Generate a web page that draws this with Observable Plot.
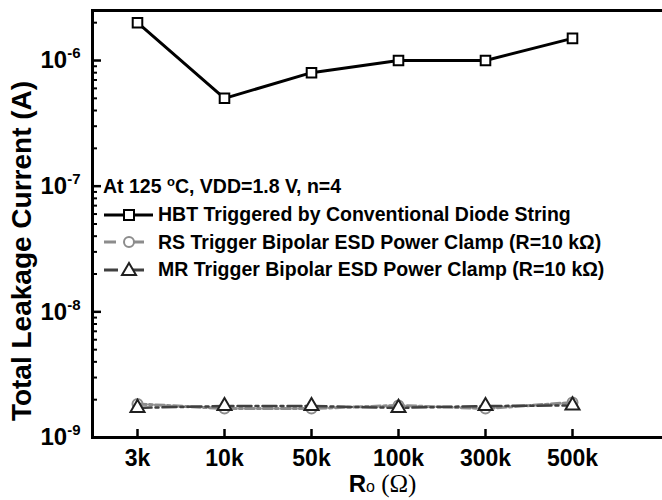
<!DOCTYPE html>
<html>
<head>
<meta charset="utf-8">
<script src="https://cdn.jsdelivr.net/npm/d3@7"></script>
<script src="https://cdn.jsdelivr.net/npm/@observablehq/plot@0.6"></script>
<style>
  body { margin: 0; background: #fff; }
  #wrap { position: relative; width: 662px; height: 500px; overflow: hidden; font-family: "Liberation Sans", Arial, sans-serif; font-weight: bold; }
  #legend { position: absolute; left: 103px; top: 177px; font-size: 19.5px; color: #000; line-height: 1; }
  #legend .row { display: flex; align-items: center; height: 27.5px; white-space: nowrap; }
  #legend .title { height: 24px; white-space: pre; }
  #legend svg { width: 55px; height: 22px; flex: none; }
</style>
</head>
<body>
<div id="wrap"><div id="legend"></div></div>
<script>
const categories = ["3k", "10k", "50k", "100k", "300k", "500k"];
const hbtValues = [2.0e-6, 5.0e-7, 8.0e-7, 1.0e-6, 1.0e-6, 1.5e-6];
const rsValues = [1.85e-9, 1.7e-9, 1.7e-9, 1.8e-9, 1.7e-9, 1.9e-9];
const mrValues = [1.72e-9, 1.78e-9, 1.78e-9, 1.72e-9, 1.78e-9, 1.8e-9];
const majorTicks = [1e-9, 1e-8, 1e-7, 1e-6];
const seriesNames = [
  "HBT Triggered by Conventional Diode String",
  "RS Trigger Bipolar ESD Power Clamp (R=10 kΩ)",
  "MR Trigger Bipolar ESD Power Clamp (R=10 kΩ)"
];
const legendTitle = "At 125 °C, VDD=1.8 V, n=4";
const xLabel = "Ro (Ω)";
const yLabel = "Total Leakage Current (A)";

const yDomain = [1e-9, 2.5e-6];
const minorTicks = d3.scaleLog().domain(yDomain).ticks().filter(t => !majorTicks.includes(t));

const hbt = categories.map((c, i) => ({x: c, y: hbtValues[i]}));
const rs = categories.map((c, i) => ({x: c, y: rsValues[i]}));
const mr = categories.map((c, i) => ({x: c, y: mrValues[i]}));

const W = 662, H = 500, ML = 92, MR = -10, MT = 10, MB = 63;
const frameW = W - ML - MR, frameH = H - MT - MB;
const font = "'Liberation Sans', Arial, sans-serif";

const chart = Plot.plot({
  width: W, height: H,
  marginLeft: ML, marginRight: MR, marginTop: MT, marginBottom: MB,
  style: {fontFamily: font, fontWeight: "bold", color: "#000", background: "#fff", overflow: "hidden"},
  x: {type: "point", domain: categories, range: [135, 574], padding: 0},
  y: {type: "log", domain: yDomain},
  marks: [
    Plot.frame({stroke: "#000", strokeWidth: 3}),
    Plot.ruleY(minorTicks, {y: d => d, insetRight: frameW - 5, stroke: "#000", strokeWidth: 2}),
    Plot.ruleY(majorTicks, {y: d => d, insetRight: frameW - 9, stroke: "#000", strokeWidth: 2.5}),
    Plot.ruleX(categories, {x: d => d, insetTop: frameH - 8, stroke: "#000", strokeWidth: 2.5}),
    Plot.axisY({ticks: majorTicks, tickSize: 0, tickPadding: 12, fontSize: 24, label: null,
      tickFormat: d => "10^" + Math.round(Math.log10(d))}),
    Plot.axisX({tickSize: 0, tickPadding: 12, fontSize: 23, label: null}),
    Plot.text([xLabel], {frameAnchor: "bottom", dy: 54, fontSize: 24, fill: "#000", text: d => d}),
    Plot.text([yLabel], {frameAnchor: "left", textAnchor: "middle", dx: -70, dy: 27, rotate: -90, fontSize: 28, fill: "#000", text: d => d}),
    Plot.line(rs, {x: "x", y: "y", stroke: "#8c8c8c", strokeWidth: 3, strokeDasharray: "9,3,3,3"}),
    Plot.line(mr, {x: "x", y: "y", stroke: "#404040", strokeWidth: 2.5, strokeDasharray: "14,4,3,4"}),
    Plot.line(hbt, {x: "x", y: "y", stroke: "#000", strokeWidth: 3}),
    Plot.dot(rs, {x: "x", y: "y", symbol: "circle", r: 5, stroke: "#8c8c8c", strokeWidth: 2, fill: "none"}),
    Plot.dot(mr, {x: "x", y: "y", symbol: "triangle", r: 5.2, stroke: "#202020", strokeWidth: 2, fill: "#fff"}),
    Plot.dot(hbt, {x: "x", y: "y", symbol: "square", r: 5.4, stroke: "#000", strokeWidth: 2, fill: "#fff"})
  ]
});

// superscript exponents on y tick labels, subscript on x label
chart.querySelectorAll("text").forEach(t => {
  const s = t.textContent;
  const m = s.match(/^10\^(-?\d+)$/);
  if (m) {
    t.textContent = "";
    const base = document.createElementNS("http://www.w3.org/2000/svg", "tspan");
    base.textContent = "10";
    const sup = document.createElementNS("http://www.w3.org/2000/svg", "tspan");
    sup.textContent = m[1];
    sup.setAttribute("dy", "-10");
    sup.setAttribute("font-size", "15");
    t.appendChild(base); t.appendChild(sup);
  } else if (s === xLabel) {
    t.textContent = "";
    const a = document.createElementNS("http://www.w3.org/2000/svg", "tspan");
    a.textContent = "R";
    const b = document.createElementNS("http://www.w3.org/2000/svg", "tspan");
    b.textContent = "o";
    b.setAttribute("font-size", "16"); b.setAttribute("font-weight", "normal");
    const c = document.createElementNS("http://www.w3.org/2000/svg", "tspan");
    c.textContent = " (Ω)";
    c.setAttribute("font-weight", "normal");
    c.setAttribute("font-family", "'Liberation Serif', serif");
    c.setAttribute("font-size", "25");
    t.appendChild(a); t.appendChild(b); t.appendChild(c);
  }
});

const wrap = document.getElementById("wrap");
wrap.insertBefore(chart, wrap.firstChild);

// legend
const legend = document.getElementById("legend");
const title = document.createElement("div");
title.className = "title";
title.innerHTML = legendTitle.replace("°", "<span style='font-size:13px;position:relative;top:-7px;'>o</span>");
legend.appendChild(title);
const styles = [
  {stroke: "#000", w: 3, dash: null, sym: "square", mstroke: "#000"},
  {stroke: "#8c8c8c", w: 3, dash: "12,16", sym: "circle", mstroke: "#8c8c8c"},
  {stroke: "#404040", w: 3, dash: "14,12", sym: "triangle", mstroke: "#202020"}
];
seriesNames.forEach((name, i) => {
  const st = styles[i];
  const row = document.createElement("div");
  row.className = "row";
  let marker;
  if (st.sym === "square") marker = `<rect x="21" y="6" width="10" height="10" fill="#fff" stroke="${st.mstroke}" stroke-width="2"/>`;
  else if (st.sym === "circle") marker = `<circle cx="26" cy="11" r="5" fill="#fff" stroke="${st.mstroke}" stroke-width="2"/>`;
  else marker = `<path d="M26,4 L33,16 L19,16 Z" fill="#fff" stroke="${st.mstroke}" stroke-width="2"/>`;
  row.innerHTML = `<svg viewBox="0 0 55 22"><line x1="1" x2="50" y1="11" y2="11" stroke="${st.stroke}" stroke-width="${st.w}" ${st.dash ? `stroke-dasharray="${st.dash}"` : ""}/>${marker}</svg><span>${name}</span>`;
  legend.appendChild(row);
});
</script>
</body>
</html>
